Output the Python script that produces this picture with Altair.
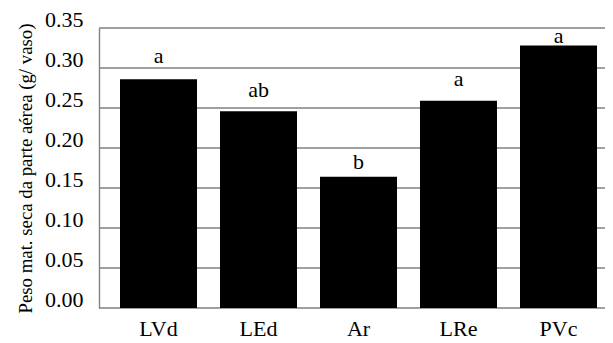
import altair as alt
import pandas as pd

categories = ["LVd", "LEd", "Ar", "LRe", "PVc"]
values = [0.286, 0.246, 0.164, 0.259, 0.328]
letters = ["a", "ab", "b", "a", "a"]
letter_at = [0.306, 0.264, 0.174, 0.278, 0.3316]
grid_values = [0.0, 0.05, 0.1, 0.15, 0.2, 0.25, 0.3, 0.35]

df = pd.DataFrame({"cat": categories, "val": values, "let": letters, "lat": letter_at})
gdf = pd.DataFrame({"g": grid_values})

FONT = "Liberation Serif, Times New Roman, serif"
YTITLE = "Peso mat. seca da parte aérea (g/ vaso)"

xscale = alt.Scale(paddingInner=0.23, paddingOuter=0.21, range=[0, 519])
yscale = alt.Scale(domain=[0, 0.35], nice=False)

x_axis = alt.Axis(labelAngle=0, labelFont=FONT, labelFontSize=22, labelColor="black",
                  labelPadding=10, ticks=False, domain=False, grid=False)
y_axis = alt.Axis(values=grid_values, format=".2f",
                  labelFont=FONT, labelFontSize=22, labelColor="black", labelPadding=16,
                  labelOffset=-9, labelOverlap=False, labelBound=False, labelFlush=False,
                  ticks=False, grid=False,
                  domainColor="#808080", domainWidth=1.4,
                  titleFont=FONT, titleFontSize=18.8, titleFontWeight="normal",
                  titleColor="black", titlePadding=9)

grid = alt.Chart(gdf).mark_rule(color="#808080", strokeWidth=1.4).encode(
    y=alt.Y("g:Q", scale=yscale, axis=y_axis, title=YTITLE),
    x=alt.value(0), x2=alt.value(516),
)

bars = alt.Chart(df).mark_bar(color="black").encode(
    x=alt.X("cat:N", sort=categories, title=None, scale=xscale, axis=x_axis),
    y=alt.Y("val:Q", title=YTITLE, scale=yscale, axis=y_axis),
)

text = alt.Chart(df).mark_text(font=FONT, fontSize=22, color="black", baseline="alphabetic").encode(
    x=alt.X("cat:N", sort=categories, title=None, scale=xscale, axis=x_axis),
    y=alt.Y("lat:Q", title=YTITLE, scale=yscale, axis=y_axis),
    text="let:N",
)

chart = alt.layer(grid, bars, text).properties(
    width=506, height=280,
    autosize=alt.AutoSizeParams(type="none"),
    padding={"left": 91, "top": 20, "right": 0, "bottom": 35},
).configure_view(stroke=None)

chart.save("out.html", embed_options={"renderer": "svg", "actions": False})
